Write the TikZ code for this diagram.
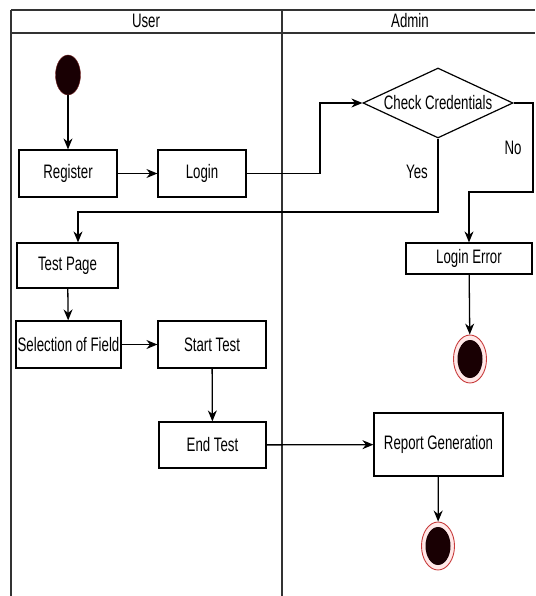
\documentclass[tikz,border=0pt]{standalone}
\usepackage{fontspec}
\setmainfont[FakeStretch=0.68]{Liberation Sans}
\usetikzlibrary{shapes.geometric,arrows.meta}

\definecolor{dotfill}{RGB}{25,0,3}
\definecolor{ringred}{RGB}{200,60,60}
\definecolor{ringfill}{RGB}{255,232,232}

\tikzset{
	every node/.style={font=\fontsize{19.5}{22}\selectfont},
	activity/.style={shape=rectangle, draw, line width=1.2pt, inner sep=0pt},
	startstate/.style={shape=ellipse, fill=dotfill, draw=ringred!60!black, minimum width=25pt, minimum height=40pt, inner sep=0pt},
	endstate/.style={shape=ellipse, draw=ringred, line width=0.9pt, fill=ringfill, minimum width=33pt, minimum height=48pt, inner sep=0pt,
		path picture={\fill[dotfill] (path picture bounding box.center) ellipse (12.5pt and 19pt);}},
	arr/.style={-{Stealth[length=11pt,width=9pt]}, line width=1.3pt},
}

\begin{document}
\begin{tikzpicture}[x=1pt,y=-1pt]
	\useasboundingbox (0,0) rectangle (535,596);

	% swimlanes
	\draw[line width=1.2pt, black!80] (11,10) -- (535,10);
	\draw[line width=1.2pt, black!80] (11,33) -- (535,33);
	\draw[line width=1.2pt, black!80] (11,10) -- (11,596);
	\draw[line width=1.2pt, black!80] (282,10) -- (282,596);
	\node (user) at (146,21) {User};
	\node (admin) at (410,21) {Admin};

	% user lane
	\node[startstate] (start) at (68,75) {};
	\node[activity, minimum width=98pt, minimum height=47pt] (register) at (68,173.5) {Register};
	\node[activity, minimum width=88pt, minimum height=47pt] (login) at (202,173.5) {Login};
	\node[activity, minimum width=101pt, minimum height=45pt] (testpage) at (67.5,265.5) {Test Page};
	\node[activity, minimum width=105pt, minimum height=47pt] (selection) at (68.5,344.5) {Selection of Field};
	\node[activity, minimum width=108pt, minimum height=47pt] (starttest) at (212,344.5) {Start Test};
	\node[activity, minimum width=107pt, minimum height=46pt] (endtest) at (212.5,445) {End Test};

	% admin lane
	\node[shape=diamond, draw, line width=1.2pt, inner sep=0pt, minimum width=150pt, minimum height=70pt] (check) at (438,103) {\makebox[0pt]{Check Credentials}};
	\node[activity, minimum width=126pt, minimum height=31pt] (loginerror) at (469,258.5) {Login Error};
	\node[endstate] (end1) at (470,359) {};
	\node[activity, minimum width=129pt, minimum height=63pt] (report) at (438.5,444.5) {Report Generation};
	\node[endstate] (end2) at (438,546) {};

	\node (yes) at (417,172) {Yes};
	\node (no) at (513,148) {No};

	\coordinate (c1) at (320,103);
	\coordinate (c2) at (78,212);
	\coordinate (c3) at (533,192);

	\path (start) edge[arr] (register);
	\path (register) edge[arr] (login);
	\draw [arr] (login.east) -| (c1) -- (check.west);
	\draw [arr] (check.south) |- (c2) -- (c2 |- testpage.north);
	\draw [arr] (check.east) -| (c3) -| (loginerror.north);
	\path (loginerror) edge[arr] (end1);
	\path (testpage) edge[arr] (selection);
	\path (selection) edge[arr] (starttest);
	\path (starttest) edge[arr] (endtest);
	\path (endtest) edge[arr] (report);
	\path (report) edge[arr] (end2);
\end{tikzpicture}
\end{document}
